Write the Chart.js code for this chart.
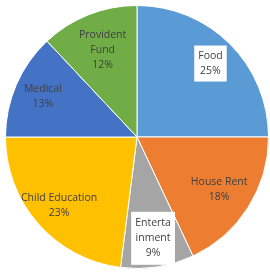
<!DOCTYPE html>
<html>
<head>
<meta charset="utf-8">
<script src="https://cdn.jsdelivr.net/npm/chart.js@4.4.0/dist/chart.umd.min.js"></script>
<style>
  html, body { margin: 0; padding: 0; background: #ffffff; }
  #wrap { width: 270px; height: 272px; }
</style>
</head>
<body>
<div id="wrap"><canvas id="pieChart_expense" width="270" height="272"></canvas></div>
<script>
// chart data
const categories = ['Food', 'House Rent', 'Entertainment', 'Child Education', 'Medical', 'Provident Fund'];
const shares = [25, 18, 9, 23, 13, 12];
// how each label is broken into lines on the picture
const labelLines = [['Food'], ['House Rent'], ['Enterta', 'inment'], ['Child Education'], ['Medical'], ['Provident', 'Fund']];

const sliceColors = ['#5b9bd5', '#ed7d31', '#a5a5a5', '#ffc000', '#4472c4', '#70ad47'];
const labelRadius = [0.79, 0.74, 0.78, 0.79, 0.78, 0.71];
const boxPad = [3, 0, 4, 0, 0, 0]; // 0 = no white box

// draws the data labels inside slices
const sliceLabels = {
    id: 'sliceLabels',
    afterDatasetsDraw(chart) {
        const ctx = chart.ctx;
        const meta = chart.getDatasetMeta(0);
        ctx.save();
        ctx.font = '10.5px "Open Sans", sans-serif';
        ctx.textAlign = 'center';
        ctx.textBaseline = 'middle';
        const lineH = 15;
        meta.data.forEach((arc, i) => {
            const mid = (arc.startAngle + arc.endAngle) / 2;
            const r = arc.outerRadius * labelRadius[i];
            const x = arc.x + Math.cos(mid) * r;
            const y = arc.y + Math.sin(mid) * r;
            const lines = labelLines[i].concat([shares[i] + '%']);
            const h = lines.length * lineH;
            if (boxPad[i]) {
                let w = 0;
                lines.forEach(l => { w = Math.max(w, ctx.measureText(l).width); });
                ctx.fillStyle = '#ffffff';
                ctx.fillRect(x - w / 2 - 4, y - h / 2 - boxPad[i], w + 8, h + 2 * boxPad[i]);
            }
            ctx.fillStyle = '#404040';
            lines.forEach((l, k) => {
                ctx.fillText(l, x, y - h / 2 + lineH / 2 + k * lineH);
            });
        });
        ctx.restore();
    }
};

const ctx_pie = document.getElementById('pieChart_expense').getContext('2d');
const pieChart = new Chart(ctx_pie, {
    type: 'pie',
    data: {
        labels: categories,
        datasets: [{
            label: 'Expense',
            data: shares,
            backgroundColor: sliceColors,
            borderColor: '#ffffff',
            borderWidth: 1
        }]
    },
    options: {
        responsive: false,
        maintainAspectRatio: false,
        animation: false,
        layout: { padding: { left: 4, right: 0, top: 5, bottom: 3 } },
        plugins: {
            legend: { display: false },
            tooltip: { enabled: false }
        }
    },
    plugins: [sliceLabels]
});
</script>
</body>
</html>
